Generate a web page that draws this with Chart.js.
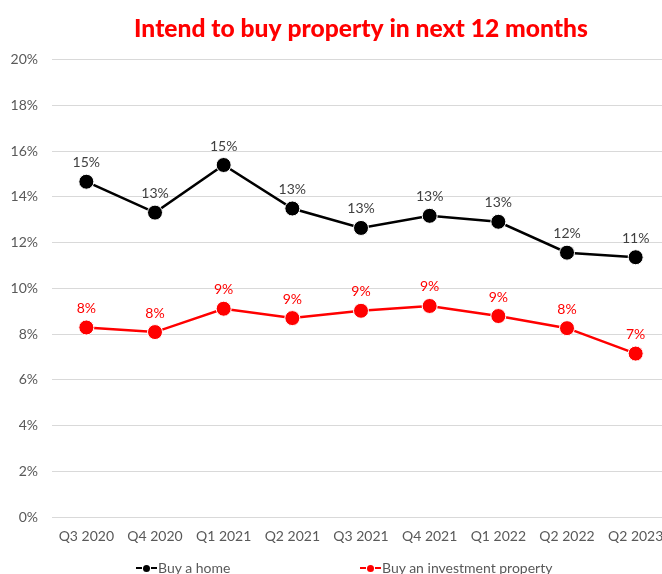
<!DOCTYPE html>
<html>
<head>
<meta charset="utf-8">
<script src="https://cdn.jsdelivr.net/npm/chart.js@4.4.1/dist/chart.umd.min.js"></script>
<style>
  html, body { margin: 0; padding: 0; background: #fff; overflow: hidden; }
  #wrap { position: relative; width: 662px; height: 574px; overflow: hidden; }
  #chart { position: absolute; left: 0; top: 0; }
  #legend { position: absolute; left: 0; top: 559px; width: 662px; font-family: Lato, sans-serif; font-size: 14px; color: #595959; }
  .item { position: absolute; display: flex; align-items: center; white-space: nowrap; }
  .mark { position: relative; width: 21px; height: 10px; margin-right: 1px; }
  .mark .ln { position: absolute; left: 0; right: 0; top: 4px; height: 2px; background-image: linear-gradient(to right, currentColor 0 6px, transparent 6px 15px, currentColor 15px 21px); }
  .mark .dot { position: absolute; left: 7px; top: 2px; width: 7px; height: 7px; border-radius: 50%; background: currentColor; }
</style>
</head>
<body>
<div id="wrap">
  <canvas id="chart" width="670" height="574"></canvas>
  <div id="legend"></div>
</div>
<script>
const categories = ['Q3 2020', 'Q4 2020', 'Q1 2021', 'Q2 2021', 'Q3 2021', 'Q4 2021', 'Q1 2022', 'Q2 2022', 'Q2 2023'];
const buyHome = [14.66, 13.31, 15.39, 13.49, 12.64, 13.17, 12.91, 11.56, 11.36];
const buyInvestment = [8.29, 8.09, 9.11, 8.70, 9.02, 9.23, 8.79, 8.26, 7.15];
const yTicks = [0, 2, 4, 6, 8, 10, 12, 14, 16, 18, 20];

const FONT = 'Lato, "Open Sans", sans-serif';

// draw rounded % labels above each point
const pointLabels = {
    id: 'pointLabels',
    afterDatasetsDraw(chart) {
        const ctx = chart.ctx;
        ctx.save();
        ctx.font = '14px ' + FONT;
        ctx.textAlign = 'center';
        ctx.textBaseline = 'middle';
        chart.data.datasets.forEach((ds, i) => {
            chart.getDatasetMeta(i).data.forEach((pt, j) => {
                ctx.fillStyle = ds.labelColor;
                ctx.fillText(Math.round(ds.data[j]) + '%', pt.x, pt.y - 19);
            });
        });
        ctx.restore();
    }
};

const ctx = document.getElementById('chart').getContext('2d');
new Chart(ctx, {
    type: 'line',
    data: {
        labels: categories,
        datasets: [
            {
                label: 'Buy a home',
                data: buyHome,
                borderColor: '#000000',
                backgroundColor: '#000000',
                pointBackgroundColor: '#000000',
                pointBorderColor: '#ffffff',
                pointBorderWidth: 1,
                pointRadius: 7.5,
                borderWidth: 2.5,
                tension: 0,
                labelColor: '#404040'
            },
            {
                label: 'Buy an investment property',
                data: buyInvestment,
                borderColor: '#ff0000',
                backgroundColor: '#ff0000',
                pointBackgroundColor: '#ff0000',
                pointBorderColor: '#ffffff',
                pointBorderWidth: 1,
                pointRadius: 7.5,
                borderWidth: 2.5,
                tension: 0,
                labelColor: '#ff0000'
            }
        ]
    },
    options: {
        responsive: false,
        animation: false,
        layout: { autoPadding: false, padding: { left: 0, right: 0, top: 0, bottom: 26 } },
        plugins: {
            legend: { display: false },
            tooltip: { enabled: false },
            title: {
                display: true,
                fullSize: false,
                text: 'Intend to buy property in next 12 months',
                color: '#ff0000',
                font: { family: FONT, size: 24.6, weight: 900 },
                padding: { top: 14, bottom: 16 }
            }
        },
        scales: {
            x: {
                offset: true,
                grid: { display: false },
                border: { display: false },
                ticks: { color: '#595959', font: { family: FONT, size: 14 }, padding: 3, maxRotation: 0 }
            },
            y: {
                min: 0,
                max: 20,
                afterBuildTicks: (axis) => { axis.ticks = yTicks.map(v => ({ value: v })); },
                afterFit: (axis) => { axis.width = 52; },
                grid: { color: '#d9d9d9', lineWidth: 1, drawTicks: false },
                border: { display: false },
                ticks: { color: '#595959', font: { family: FONT, size: 14 }, padding: 14, callback: (v) => v + '%' }
            }
        }
    },
    plugins: [pointLabels]
});

// legend below the plot
const legendItems = [
    { text: 'Buy a home', color: '#000000', left: 136 },
    { text: 'Buy an investment property', color: '#ff0000', left: 360 }
];
const legend = document.getElementById('legend');
legendItems.forEach(it => {
    const el = document.createElement('div');
    el.className = 'item';
    el.style.left = it.left + 'px';
    el.innerHTML = `<span class="mark" style="color:${it.color}"><span class="ln"></span><span class="dot"></span></span><span>${it.text}</span>`;
    legend.appendChild(el);
});
</script>
</body>
</html>
